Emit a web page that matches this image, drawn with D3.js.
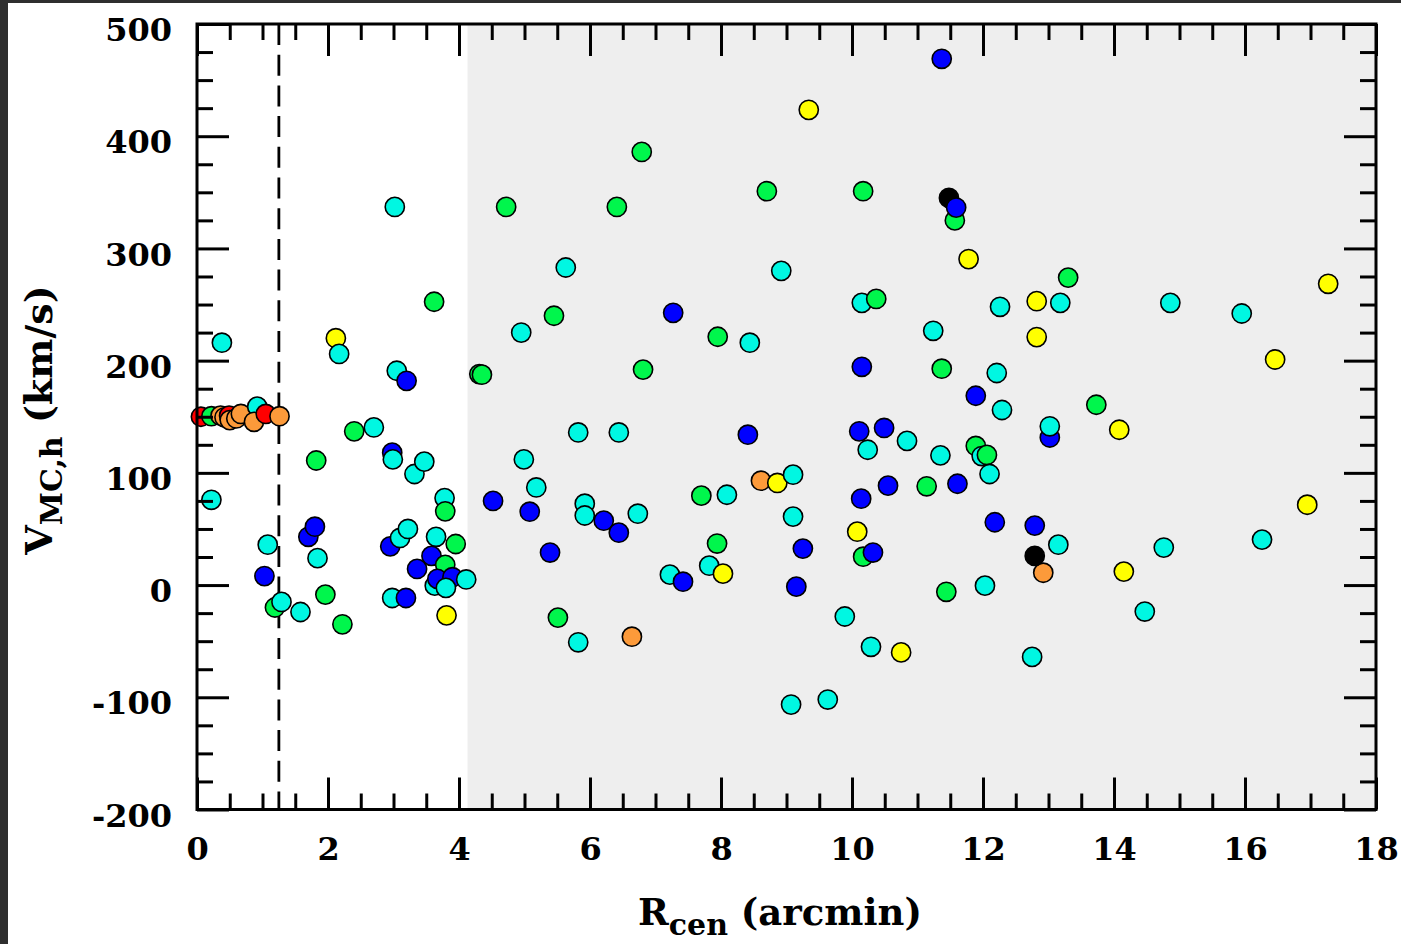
<!DOCTYPE html>
<html>
<head>
<meta charset="utf-8">
<script src="https://cdn.jsdelivr.net/npm/d3@7"></script>
<style>
  body { margin: 0; background: #fff; }
  svg { display: block; }
</style>
</head>
<body>
<svg id="chart" width="1401" height="944"></svg>
<script>
// ---- data -------------------------------------------------------------
const xTickValues = [0, 2, 4, 6, 8, 10, 12, 14, 16, 18];
const yTickValues = [-200, -100, 0, 100, 200, 300, 400, 500];

// projected distance from the centre (arcmin)
const rCen = [
  0.06, 0.22, 0.36, 0.42, 0.49, 0.50, 0.60, 0.67, 0.92, 0.87, 1.05, 1.26,
  0.22, 0.38, 1.08, 1.03, 1.19, 1.29, 1.58, 1.70, 1.80, 1.82, 1.84, 1.96,
  2.12, 2.17, 2.22, 2.40, 2.70, 3.02, 2.98, 2.99, 3.05, 3.20, 3.32, 3.47,
  2.95, 3.10, 3.22, 2.98, 3.19, 3.62, 3.78, 3.79, 3.65, 3.95, 3.58, 3.79,
  3.36, 3.63, 3.67, 3.90, 3.80, 4.11, 3.81,
  4.31, 4.35, 4.52, 4.72, 4.95, 4.99, 5.08, 5.18, 5.39, 5.45, 5.51, 5.63,
  5.82, 5.82, 5.92, 5.92, 6.21, 6.41, 6.44, 6.44, 6.64, 6.73, 6.79, 6.81,
  7.22, 7.42, 7.27, 7.70, 7.82, 8.03, 7.94, 7.95, 8.09, 8.41, 8.44, 8.70,
  8.61, 8.86, 9.10, 8.92, 9.07, 9.10, 9.15, 9.25, 9.34, 9.63, 9.89, 10.08,
  10.11, 10.24, 10.14, 10.15, 10.15, 10.37, 10.17, 10.17, 10.32, 10.29, 10.49, 10.55,
  10.75, 10.84, 11.14, 11.24, 11.35, 11.37, 11.37, 11.44, 11.48, 11.57, 11.59, 11.61,
  11.78, 11.89, 11.89, 11.98, 12.06, 12.10, 12.03, 12.18, 12.21, 12.26, 12.29, 12.75,
  12.92, 12.79, 12.79, 12.82, 12.82, 13.02, 13.02, 13.15, 13.18, 13.30, 13.73, 14.08,
  14.15, 14.47, 14.76, 14.86, 15.95, 16.46, 16.26, 16.95, 17.27
];

// heliocentric velocity (km/s)
const vHelio = [
  150, 150.5, 151, 149.5, 151, 147, 148.5, 152.5, 159, 145.5, 152.5, 150.5,
  76, 216, 36, 8, -20, -15, -24, 43, 52, 111, 24, -8.5,
  220, 206, -35, 137, 140.5, 337, 118, 112, 191, 182, 99, 110,
  34.5, 42, 50, -11.5, -11.5, 252.5, 77.5, 65.7, 43, 36.6, 26, 18,
  14.4, -0.5, 5.5, 7, -2.5, 5, -27,
  188, 187.5, 75, 337, 225, 112, 65.4, 87, 29, 240, -29, 283,
  136, -51, 72.5, 62, 57.4, 337, 136, 46.7, -46, 63.6, 386, 192,
  9.3, 3, 242.6, 79.7, 17.3, 10.2, 37, 221.3, 80.5, 134, 216, 351,
  93, 91, 98.4, 280, -106.5, 61, -1.4, 32.5, 423.5, -102, -28, 47.6,
  137, 120.6, 77, 194.5, 251.5, 255, 351, 25.3, 29, -55, 140, 88.6,
  -60, 128.5, 88, 226.6, 115.6, 192.8, 469, -6, 345, 325, 336.4, 90.3,
  290.5, 168.7, 124, 115, 116, 99, -0.5, 56, 189, 248, 156, -64,
  11, 26, 53, 253, 221, 131.5, 141.5, 36, 251.5, 274, 160.7, 138.4,
  12, -23.6, 33.4, 251.5, 242, 201, 40.5, 71.6, 268.5
];

// colour class of each star
const group = [
  "red", "green", "orange", "orange", "red", "orange", "orange", "orange", "cyan", "orange", "red", "orange",
  "cyan", "cyan", "cyan", "blue", "green", "cyan", "cyan", "blue", "blue", "green", "cyan", "green",
  "yellow", "cyan", "green", "green", "cyan", "cyan", "blue", "cyan", "cyan", "blue", "cyan", "cyan",
  "blue", "cyan", "cyan", "cyan", "blue", "green", "cyan", "green", "cyan", "green", "blue", "green",
  "blue", "cyan", "blue", "blue", "cyan", "cyan", "yellow",
  "green", "green", "blue", "green", "cyan", "cyan", "blue", "cyan", "blue", "green", "green", "cyan",
  "cyan", "cyan", "cyan", "cyan", "blue", "green", "cyan", "blue", "orange", "cyan", "green", "green",
  "cyan", "blue", "blue", "green", "cyan", "yellow", "green", "green", "cyan", "blue", "cyan", "green",
  "orange", "yellow", "cyan", "cyan", "cyan", "cyan", "blue", "blue", "yellow", "cyan", "cyan", "yellow",
  "blue", "cyan", "blue", "blue", "cyan", "green", "green", "green", "blue", "cyan", "blue", "blue",
  "yellow", "cyan", "green", "cyan", "cyan", "green", "blue", "green", "black", "green", "blue", "blue",
  "yellow", "blue", "green", "cyan", "green", "cyan", "cyan", "blue", "cyan", "cyan", "cyan", "cyan",
  "orange", "black", "blue", "yellow", "yellow", "blue", "cyan", "cyan", "cyan", "green", "green", "yellow",
  "yellow", "cyan", "cyan", "cyan", "cyan", "yellow", "cyan", "yellow", "yellow"
];

const groupColor = {
  red: "#ff0000",
  orange: "#fc9a3a",
  yellow: "#ffff00",
  green: "#00f64c",
  cyan: "#00f7e2",
  blue: "#0000ff",
  black: "#000000"
};

const coreRadius = 1.25;       // dashed reference line (arcmin)
const outerRegionStart = 4.13; // start of the shaded outer region (arcmin)

// ---- layout -----------------------------------------------------------
const svg = d3.select("#chart");
const W = 1401, H = 944;
const plot = { left: 197, right: 1376, top: 24, bottom: 809.5 };
const FONT = "'DejaVu Serif', 'Liberation Serif', serif";

svg.append("rect").attr("width", W).attr("height", H).attr("fill", "#ffffff");
// dark window edge
svg.append("rect").attr("x", 0).attr("y", 0).attr("width", 8).attr("height", H).attr("fill", "#2e2e2e");
svg.append("rect").attr("x", 0).attr("y", 0).attr("width", W).attr("height", 3).attr("fill", "#2e2e2e");

const x = d3.scaleLinear().domain([0, 18]).range([plot.left, plot.right]);
const y = d3.scaleLinear().domain([-200, 500]).range([plot.bottom, plot.top]);

// shaded outer region
svg.append("rect")
  .attr("x", x(outerRegionStart))
  .attr("y", y(500))
  .attr("width", x(18) - x(outerRegionStart))
  .attr("height", y(-200) - y(500))
  .attr("fill", "#eeeeee");

// dashed line
svg.append("line")
  .attr("x1", x(coreRadius)).attr("x2", x(coreRadius))
  .attr("y1", y(500)).attr("y2", y(-200))
  .attr("stroke", "#000").attr("stroke-width", 2.8)
  .attr("stroke-dasharray", "21,9.7");

// points
svg.append("g").selectAll("circle")
  .data(d3.range(rCen.length))
  .join("circle")
  .attr("cx", i => x(rCen[i]))
  .attr("cy", i => y(vHelio[i]))
  .attr("r", 9.6)
  .attr("fill", i => groupColor[group[i]])
  .attr("stroke", "#000")
  .attr("stroke-width", 1.6);

// ---- axes -------------------------------------------------------------
const xMinor = d3.range(0, 18.001, 0.5).filter(v => Math.abs(v / 2 - Math.round(v / 2)) > 1e-6);
const yMinor = d3.range(-200, 500.001, 25).filter(v => v % 100 !== 0);
const plainNumber = d => String(d);

function styleAxis(g) {
  g.select(".domain").remove();
  g.selectAll(".tick line").attr("stroke", "#000").attr("stroke-width", 3);
  g.selectAll(".tick text")
    .attr("fill", "#000")
    .attr("font-family", FONT)
    .attr("font-weight", "bold")
    .attr("font-size", 32);
}

// bottom
svg.append("g").attr("transform", `translate(0,${plot.bottom})`)
  .call(d3.axisBottom(x).tickValues(xTickValues).tickFormat(plainNumber).tickSize(-32).tickPadding(28))
  .call(styleAxis);
svg.append("g").attr("transform", `translate(0,${plot.bottom})`)
  .call(d3.axisBottom(x).tickValues(xMinor).tickFormat("").tickSize(-16))
  .call(styleAxis);
// top
svg.append("g").attr("transform", `translate(0,${plot.top})`)
  .call(d3.axisTop(x).tickValues(xTickValues).tickFormat("").tickSize(-32))
  .call(styleAxis);
svg.append("g").attr("transform", `translate(0,${plot.top})`)
  .call(d3.axisTop(x).tickValues(xMinor).tickFormat("").tickSize(-16))
  .call(styleAxis);
// left
svg.append("g").attr("transform", `translate(${plot.left},0)`)
  .call(d3.axisLeft(y).tickValues(yTickValues).tickFormat(plainNumber).tickSize(-32).tickPadding(25))
  .call(styleAxis)
  .call(g => g.selectAll(".tick text").attr("dy", "0.52em"));
svg.append("g").attr("transform", `translate(${plot.left},0)`)
  .call(d3.axisLeft(y).tickValues(yMinor).tickFormat("").tickSize(-16))
  .call(styleAxis);
// right
svg.append("g").attr("transform", `translate(${plot.right},0)`)
  .call(d3.axisRight(y).tickValues(yTickValues).tickFormat("").tickSize(-32))
  .call(styleAxis);
svg.append("g").attr("transform", `translate(${plot.right},0)`)
  .call(d3.axisRight(y).tickValues(yMinor).tickFormat("").tickSize(-16))
  .call(styleAxis);

// frame
svg.append("rect")
  .attr("x", plot.left).attr("y", plot.top)
  .attr("width", plot.right - plot.left).attr("height", plot.bottom - plot.top)
  .attr("fill", "none").attr("stroke", "#000").attr("stroke-width", 3);

// ---- axis titles ------------------------------------------------------
const xTitle = svg.append("text")
  .attr("x", 780).attr("y", 925)
  .attr("text-anchor", "middle")
  .attr("font-family", FONT).attr("font-weight", "bold").attr("font-size", 37)
  .attr("fill", "#000");
xTitle.append("tspan").text("R");
xTitle.append("tspan").attr("font-size", 30).attr("dy", 10).text("cen");
xTitle.append("tspan").attr("dy", -10).text(" (arcmin)");

const yTitle = svg.append("text")
  .attr("transform", "translate(52,420) rotate(-90)")
  .attr("text-anchor", "middle")
  .attr("font-family", FONT).attr("font-weight", "bold").attr("font-size", 38)
  .attr("fill", "#000");
yTitle.append("tspan").text("V");
yTitle.append("tspan").attr("font-size", 30).attr("dy", 10).text("MC,h");
yTitle.append("tspan").attr("dy", -10).text(" (km/s)");
</script>
</body>
</html>
